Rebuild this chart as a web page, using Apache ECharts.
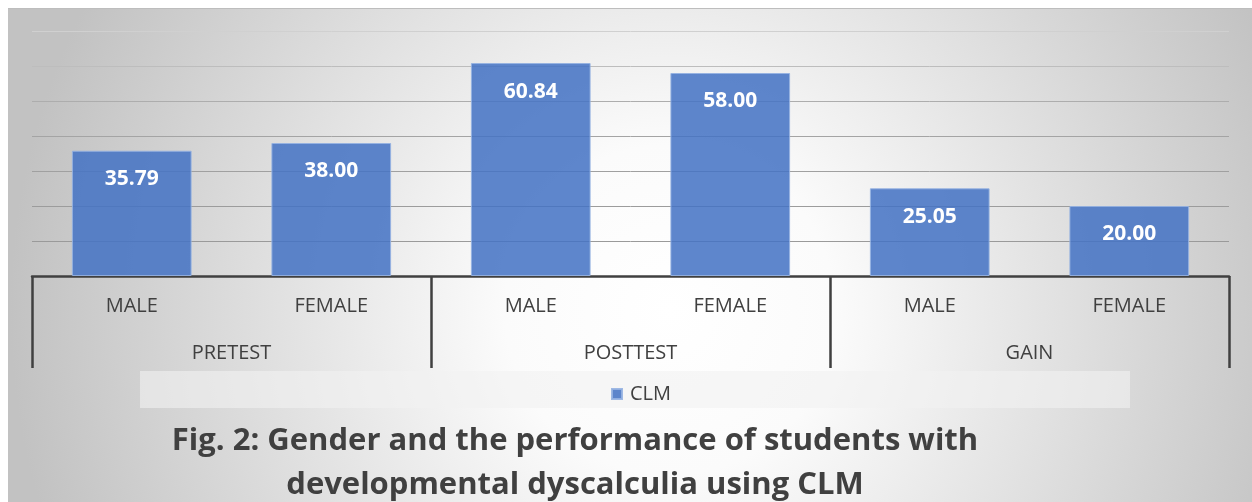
<!DOCTYPE html>
<html>
<head>
<meta charset="utf-8">
<script src="https://cdn.jsdelivr.net/npm/echarts@6/dist/echarts.min.js"></script>
<style>
html,body{margin:0;padding:0;background:#ffffff;}
#chart{width:1252px;height:502px;}
</style>
</head>
<body>
<div id="chart"></div>
<script>
const categories = ['MALE', 'FEMALE', 'MALE', 'FEMALE', 'MALE', 'FEMALE'];
const groups = ['PRETEST', 'POSTTEST', 'GAIN'];
const seriesName = 'CLM';
const clmValues = [35.79, 38.00, 60.84, 58.00, 25.05, 20.00];
const yMin = 0, yMax = 70, yStep = 10;
const titleLines = ['Fig. 2: Gender and the performance of students with', 'developmental dyscalculia using CLM'];

const chart = echarts.init(document.getElementById('chart'), null, {renderer: 'canvas'});
const font = '"Open Sans", "Liberation Sans", sans-serif';

chart.setOption({
  backgroundColor: 'transparent',
  animation: false,
  graphic: [
    {
      type: 'rect', z: -100, silent: true,
      shape: {x: 8, y: 8, width: 1244, height: 494},
      style: {
        fill: {
          type: 'radial', global: true, x: 670, y: 310, r: 660,
          colorStops: [{offset: 0, color: '#ffffff'}, {offset: 0.25, color: '#fbfbfb'}, {offset: 1, color: '#c2c2c2'}]
        }
      }
    },
    {
      type: 'line', z: -99, silent: true,
      shape: {x1: 8, y1: 8.5, x2: 1252, y2: 8.5},
      style: {stroke: '#bdbdbd', lineWidth: 1}
    },
    {
      type: 'rect', z: -50, silent: true,
      shape: {x: 140, y: 371, width: 990, height: 37},
      style: {fill: 'rgba(242,242,242,0.6)'}
    }
  ],
  title: {
    text: titleLines.join('\n'),
    left: 570, top: 414, textAlign: 'center',
    textStyle: {fontFamily: font, fontWeight: 'bold', fontSize: 31, color: '#404040', lineHeight: 44}
  },
  legend: {
    data: [seriesName],
    left: 606, top: 379,
    icon: 'rect', itemWidth: 10, itemHeight: 10,
    textStyle: {fontFamily: font, fontSize: 20, color: '#404040', padding: [0, 0, 0, 3]}
  },
  grid: {left: 32, right: 23, top: 31, bottom: 226, containLabel: false},
  xAxis: [
    {
      type: 'category', data: categories, position: 'bottom',
      axisLine: {show: true, lineStyle: {color: '#404040', width: 2.5}},
      axisTick: {show: false},
      axisLabel: {fontFamily: font, fontSize: 20, color: '#404040', margin: 20, interval: 0}
    },
    {
      type: 'category', data: groups, position: 'bottom',
      axisLine: {show: false},
      axisTick: {show: true, length: 92, lineStyle: {color: '#404040', width: 2.5}},
      axisLabel: {fontFamily: font, fontSize: 20, color: '#404040', margin: 67, interval: 0}
    }
  ],
  yAxis: {
    type: 'value', min: yMin, max: yMax, interval: yStep,
    axisLine: {show: false}, axisTick: {show: false}, axisLabel: {show: false},
    splitLine: {show: true, lineStyle: {width: 1, color: ['#9a9a9a', '#9a9a9a', '#9c9c9c', '#a0a0a0', '#a4a4a4', '#adadad', '#bdbdbd', '#d0d0d0']}}
  },
  series: [{
    name: seriesName, type: 'bar', xAxisIndex: 0,
    data: clmValues,
    barWidth: '60%',
    itemStyle: {color: 'rgba(68,114,196,0.86)', borderColor: 'rgba(150,178,226,0.9)', borderWidth: 1},
    label: {
      show: true, position: 'insideTop', distance: 18,
      formatter: p => p.value.toFixed(2),
      fontFamily: font, fontWeight: 'bold', fontSize: 21, color: '#ffffff'
    }
  }]
});
</script>
</body>
</html>
